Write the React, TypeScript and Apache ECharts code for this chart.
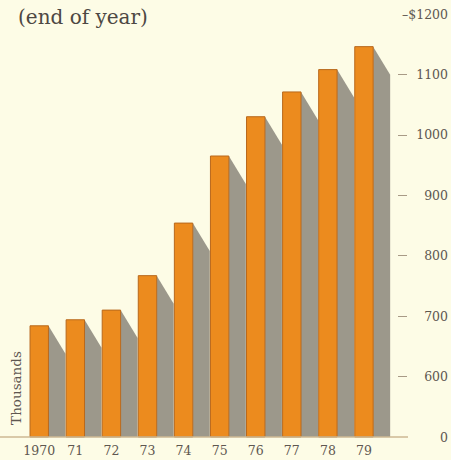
import React, { useEffect, useRef } from "react";
import * as echarts from "echarts";

// Year-end totals, in thousands of dollars
const years = ["1970", "71", "72", "73", "74", "75", "76", "77", "78", "79"];
const totals = [684, 694, 710, 767, 854, 965, 1030, 1071, 1108, 1146];

// Value axis: the bottom of the scale is broken, 500 stands for the zero line
const axisMin = 500;
const axisMax = 1200;
const axisStep = 100;
const tickValues = [600, 700, 800, 900, 1000, 1100];

const BG = "#fdfce6";
const ORANGE = "#ec8b1e";
const ORANGE_EDGE = "#b8681c";
const SHADOW = "#9c988b";
const INK = "#5e5750";
const RULE = "#cdb993";
const FONT = "DejaVu Serif";

export default function App() {
  const ref = useRef<HTMLDivElement>(null);

  useEffect(() => {
    if (!ref.current) return;
    const chart = echarts.init(ref.current, undefined, { renderer: "svg" });

    // Each bar is an orange column with a grey drop shadow falling to the right
    const renderItem = (params: any, api: any) => {
      const idx = api.value(0);
      const val = api.value(1);
      const top = api.coord([idx, val]);
      const base = api.coord([idx, axisMin]);
      const band = api.size([1, 0])[0];
      const w = band * 0.51;
      const x0 = top[0] - w / 2;
      const x1 = top[0] + w / 2;
      const dx = 17;
      const dy = 28;
      return {
        type: "group",
        children: [
          {
            type: "polygon",
            shape: {
              points: [
                [x1, top[1]],
                [x1 + dx, top[1] + dy],
                [x1 + dx, base[1]],
                [x1, base[1]],
              ],
            },
            style: { fill: SHADOW },
          },
          {
            type: "rect",
            shape: { x: x0, y: top[1], width: w, height: base[1] - top[1] },
            style: { fill: ORANGE, stroke: ORANGE_EDGE, lineWidth: 1 },
          },
        ],
      };
    };

    chart.setOption({
      animation: false,
      backgroundColor: BG,
      grid: { left: 21.2, right: 67.8, top: 14, bottom: 23 },
      xAxis: {
        type: "category",
        data: years,
        axisLine: { show: false },
        axisTick: { show: false },
        axisLabel: {
          color: INK,
          fontFamily: FONT,
          fontSize: 12.5,
          margin: 7,
          interval: 0,
        },
      },
      yAxis: {
        type: "value",
        position: "right",
        offset: 16,
        min: axisMin,
        max: axisMax,
        interval: axisStep,
        splitLine: { show: false },
        axisLine: { show: false },
        axisTick: {
          show: true,
          length: 9,
          customValues: tickValues,
          lineStyle: { color: "#a89a86", width: 1 },
        },
        axisLabel: {
          align: "right",
          margin: 50,
          color: INK,
          fontFamily: FONT,
          fontSize: 12.5,
          formatter: (v: number) =>
            v === axisMin ? "0" : v === axisMax ? "–$" + v : String(v),
        },
      },
      graphic: [
        {
          type: "line",
          shape: { x1: 0, y1: 437, x2: 408, y2: 437 },
          style: { stroke: RULE, lineWidth: 1.5 },
          z: 10,
        },
        {
          type: "text",
          x: 18,
          y: 17,
          style: {
            text: "(end of year)",
            fill: "#4d4843",
            font: `20px "${FONT}"`,
            verticalAlign: "middle",
          },
        },
        {
          type: "text",
          x: 16,
          y: 388,
          rotation: Math.PI / 2,
          style: {
            text: "Thousands",
            fill: INK,
            font: `13.5px "${FONT}"`,
            align: "center",
            verticalAlign: "middle",
          },
        },
      ],
      series: [
        {
          type: "custom",
          renderItem,
          data: totals.map((v, i) => [i, v]),
          encode: { x: 0, y: 1 },
        },
      ],
    });

    return () => chart.dispose();
  }, []);

  return (
    <div
      ref={ref}
      style={{ position: "absolute", left: 0, top: 0, width: 451, height: 460 }}
    />
  );
}
